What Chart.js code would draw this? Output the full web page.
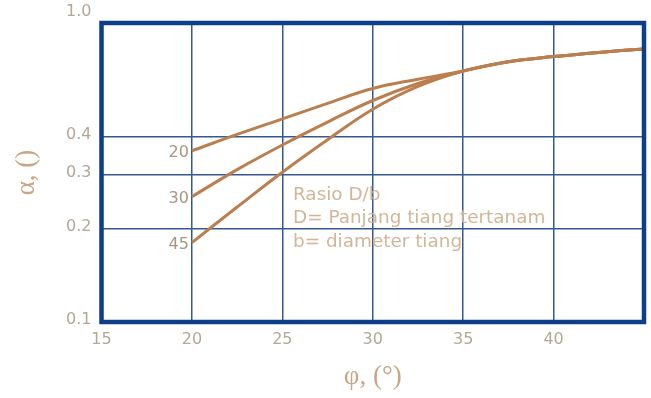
<!DOCTYPE html>
<html>
<head>
<meta charset="utf-8">
<script src="https://cdn.jsdelivr.net/npm/chart.js@4"></script>
<style>
  html, body { margin: 0; padding: 0; background: #ffffff; }
  #wrap { width: 651px; height: 398px; position: relative; }
</style>
</head>
<body>
<div id="wrap"><canvas id="c" width="651" height="398"></canvas></div>
<script>
// Friction angle φ (degrees) sampled along each curve
const phi = [20, 22.5, 25, 27.5, 30, 32.5, 35, 37.5, 40, 42.5, 45];

// Coefficient α for each embedment ratio D/b
const ratioNames = ['20', '30', '45'];
const alpha20 = [0.359, 0.406, 0.456, 0.512, 0.572, 0.613, 0.652, 0.699, 0.726, 0.749, 0.769];
const alpha30 = [0.255, 0.312, 0.375, 0.445, 0.523, 0.594, 0.652, 0.699, 0.726, 0.749, 0.769];
const alpha45 = [0.181, 0.236, 0.306, 0.390, 0.490, 0.581, 0.652, 0.699, 0.726, 0.749, 0.769];

// Axis ticks
const xTicks = [15, 20, 25, 30, 35, 40];
const yTicks = [0.1, 0.2, 0.3, 0.4, 1.0];

// Note block text
const noteLines = ['Rasio D/b', 'D= Panjang tiang tertanam', 'b= diameter tiang'];

const CURVE = '#bb7f4f';
const GRID = '#34598f';
const FRAME = '#0c3f88';
const TICK_TXT = '#b4a796';
const TITLE_TXT = '#c9a584';
const NOTE_TXT = '#d2b697';
const SANS = '"DejaVu Sans", "Noto Sans", sans-serif';
const SERIF = '"Liberation Serif", "DejaVu Serif", serif';

const series = [alpha20, alpha30, alpha45];

const datasets = series.map((vals, i) => ({
  label: ratioNames[i],
  data: phi.map((x, j) => ({ x: x, y: vals[j] })),
  borderColor: CURVE,
  borderWidth: 3,
  pointRadius: 0,
  fill: false,
  tension: 0.4
}));

// Thick frame around the plot area
const framePlugin = {
  id: 'frame',
  afterDatasetsDraw(chart) {
    const { ctx, chartArea: a } = chart;
    ctx.save();
    ctx.strokeStyle = FRAME;
    ctx.lineWidth = 4.5;
    ctx.strokeRect(a.left, a.top, a.right - a.left, a.bottom - a.top);
    ctx.restore();
  }
};

// Ratio labels at the start of each curve, plus the note block
const labelPlugin = {
  id: 'curveLabels',
  afterDatasetsDraw(chart) {
    const { ctx } = chart;
    ctx.save();
    ctx.font = '16px ' + SANS;
    ctx.fillStyle = '#a89680';
    ctx.textAlign = 'right';
    ctx.textBaseline = 'middle';
    chart.data.datasets.forEach((ds, i) => {
      const pt = chart.getDatasetMeta(i).data[0];
      ctx.fillText(ds.label, pt.x - 3, pt.y + 2);
    });
    ctx.font = '18.4px ' + SANS;
    ctx.fillStyle = NOTE_TXT;
    ctx.textAlign = 'left';
    ctx.textBaseline = 'alphabetic';
    noteLines.forEach((t, i) => {
      ctx.fillText(t, 293, 200 + i * 23.3);
    });
    ctx.restore();
  }
};

new Chart(document.getElementById('c'), {
  type: 'line',
  data: { datasets: datasets },
  plugins: [framePlugin, labelPlugin],
  options: {
    responsive: false,
    animation: false,
    layout: { padding: { left: 0, right: 7, top: 23, bottom: 0 } },
    plugins: { legend: { display: false }, tooltip: { enabled: false } },
    scales: {
      x: {
        type: 'linear',
        min: 15,
        max: 45,
        afterBuildTicks(scale) { scale.ticks = xTicks.map(v => ({ value: v })); },
        afterFit(scale) { scale.height = 76; },
        grid: { color: GRID, lineWidth: 1.5, drawTicks: false },
        border: { display: false },
        ticks: {
          color: TICK_TXT,
          font: { family: SANS, size: 16 },
          padding: 8,
          maxRotation: 0,
          callback: v => String(v)
        },
        title: {
          display: true,
          text: 'φ, (°)',
          color: TITLE_TXT,
          font: { family: SERIF, size: 27 },
          padding: { top: 0, bottom: 5 }
        }
      },
      y: {
        type: 'logarithmic',
        min: 0.1,
        max: 0.933,
        afterBuildTicks(scale) { scale.ticks = yTicks.map(v => ({ value: v })); },
        afterFit(scale) { scale.width = 101.5; },
        grid: {
          color: ctx => (ctx.tick && (ctx.tick.value >= 0.95 || ctx.tick.value <= 0.1)) ? 'rgba(0,0,0,0)' : GRID,
          lineWidth: 1.5,
          drawTicks: false
        },
        border: { display: false },
        ticks: {
          color: TICK_TXT,
          font: { family: SANS, size: 16 },
          padding: 10,
          labelOffset: -2,
          callback: v => Number(v).toFixed(1)
        },
        title: {
          display: true,
          text: 'α, ()',
          color: TITLE_TXT,
          font: { family: SERIF, size: 27 },
          padding: { top: 11, bottom: 0 }
        }
      }
    }
  }
});
</script>
</body>
</html>
